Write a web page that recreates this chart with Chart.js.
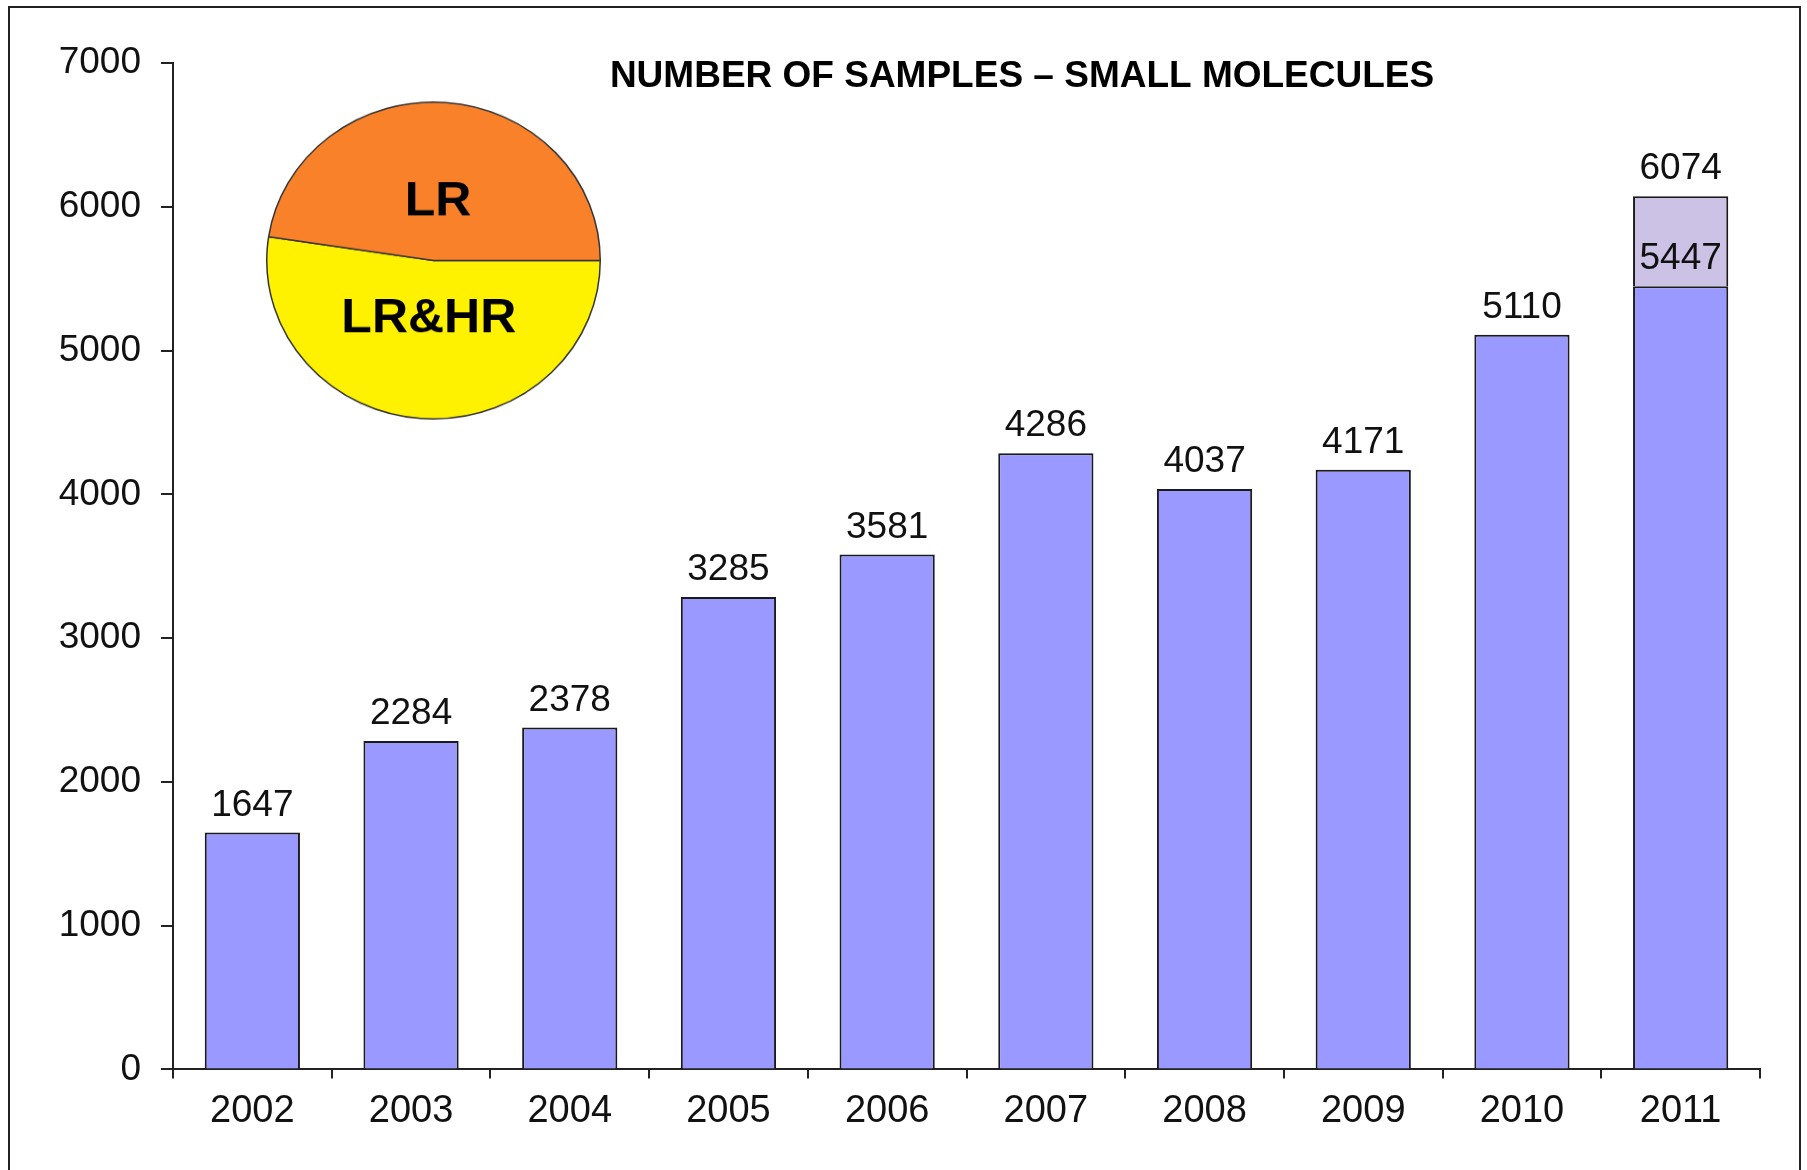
<!DOCTYPE html>
<html>
<head>
<meta charset="utf-8">
<script src="https://cdn.jsdelivr.net/npm/chart.js@4.4.1/dist/chart.umd.min.js"></script>
<style>
  html, body { margin: 0; padding: 0; background: #fff; overflow: hidden; }
  #wrap { position: relative; width: 1807px; height: 1170px; }
  #frame { position: absolute; left: 8px; top: 6px; width: 1793px; height: 1200px; border: 2px solid #222; box-sizing: border-box; }
  #barBox { position: absolute; left: 0; top: 0; width: 1807px; height: 1170px; }
  #pieBox { position: absolute; left: 265px; top: 92px; width: 337px; height: 337px; transform: scaleY(0.95); transform-origin: 50% 50%; }
</style>
</head>
<body>
<div id="wrap">
  <div id="frame"></div>
  <div id="barBox"><canvas id="barChart"></canvas></div>
  <div id="pieBox"><canvas id="pieChart"></canvas></div>
</div>
<script>
const years = ["2002", "2003", "2004", "2005", "2006", "2007", "2008", "2009", "2010", "2011"];
const baseSamples = [1647, 2284, 2378, 3285, 3581, 4286, 4037, 4171, 5110, 5447];
const totalSamples = [1647, 2284, 2378, 3285, 3581, 4286, 4037, 4171, 5110, 6074];
const yTicks = [0, 1000, 2000, 3000, 4000, 5000, 6000, 7000];

const pieLabels = ["LR&HR", "LR"];
const pieShares = [52.4, 47.6];

const chartTitle = "NUMBER OF SAMPLES \u2013 SMALL MOLECULES";
const FONT = "'Liberation Sans', Arial, sans-serif";

// extra part on top of the 2011 bar
const extraSamples = totalSamples.map((t, i) => (t - baseSamples[i] > 0 ? t - baseSamples[i] : null));

const valueLabels = {
  id: "valueLabels",
  afterDatasetsDraw(chart) {
    const c = chart.ctx;
    c.save();
    c.font = "37px " + FONT;
    c.fillStyle = "#111";
    c.textAlign = "center";
    c.textBaseline = "alphabetic";
    chart.data.datasets.forEach((ds, di) => {
      const meta = chart.getDatasetMeta(di);
      meta.data.forEach((bar, i) => {
        if (ds.data[i] == null) return;
        const txt = di === 0 ? baseSamples[i] : totalSamples[i];
        c.fillText(String(txt), bar.x, bar.y - 17);
      });
    });
    // title sits inside the plot area, a bit right of centre
    const a = chart.chartArea;
    c.font = "bold 37px " + FONT;
    c.textBaseline = "middle";
    c.fillStyle = "#000";
    c.fillText(chartTitle, a.left + (a.right - a.left) * 0.535, a.top + 14);
    c.restore();
  }
};

new Chart(document.getElementById("barChart"), {
  type: "bar",
  data: {
    labels: years,
    datasets: [
      { data: baseSamples, backgroundColor: "#9999FF", borderColor: "#1a1a1a", borderWidth: 2 },
      { data: extraSamples, backgroundColor: "#CCC2E6", borderColor: "#1a1a1a", borderWidth: 2 },
    ],
  },
  options: {
    responsive: true,
    maintainAspectRatio: false,
    animation: false,
    layout: { padding: { left: 0, top: 63, right: 47, bottom: 26 } },
    datasets: { bar: { categoryPercentage: 1, barPercentage: 0.6 } },
    scales: {
      x: {
        stacked: true,
        grid: { offset: true, drawOnChartArea: false, drawTicks: true, tickLength: 9, color: "#222", lineWidth: 2 },
        border: { display: true, color: "#222", width: 2 },
        ticks: { font: { family: FONT, size: 38 }, color: "#111", padding: 10, maxRotation: 0 },
      },
      y: {
        stacked: true,
        min: 0,
        max: 7000,
        afterFit(scale) { scale.width = 173; },
        afterBuildTicks(scale) { scale.ticks = yTicks.map(v => ({ value: v })); },
        grid: { drawOnChartArea: false, drawTicks: true, tickLength: 12, color: "#222", lineWidth: 2 },
        border: { display: true, color: "#222", width: 2 },
        ticks: { font: { family: FONT, size: 37 }, color: "#111", padding: 20, callback: v => String(v) },
      },
    },
    plugins: {
      legend: { display: false },
      tooltip: { enabled: false },
    },
  },
  plugins: [valueLabels],
});

const pieText = {
  id: "pieText",
  afterDatasetsDraw(chart) {
    const c = chart.ctx;
    const meta = chart.getDatasetMeta(0);
    c.save();
    c.font = "bold 50px " + FONT;
    c.fillStyle = "#000";
    c.textAlign = "center";
    c.textBaseline = "middle";
    meta.data.forEach((arc, i) => {
      const mid = (arc.startAngle + arc.endAngle) / 2;
      const r = arc.outerRadius * 0.37;
      c.fillText(pieLabels[i], arc.x + Math.cos(mid) * r, arc.y + Math.sin(mid) * r);
    });
    c.restore();
  }
};

new Chart(document.getElementById("pieChart"), {
  type: "pie",
  data: {
    labels: pieLabels,
    datasets: [{
      data: pieShares,
      backgroundColor: ["#FFF200", "#F8812A"],
      borderColor: "#333",
      borderWidth: 1.5,
    }],
  },
  options: {
    responsive: true,
    maintainAspectRatio: false,
    animation: false,
    rotation: 90,
    layout: { padding: 1 },
    plugins: { legend: { display: false }, tooltip: { enabled: false } },
  },
  plugins: [pieText],
});
</script>
</body>
</html>
